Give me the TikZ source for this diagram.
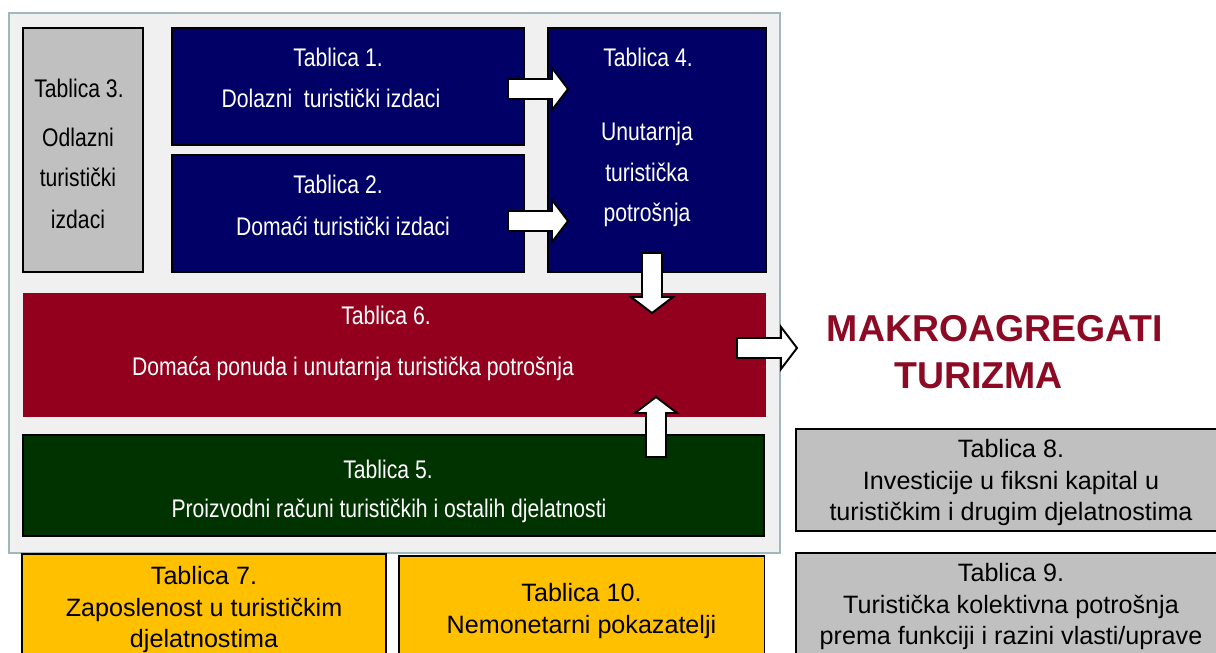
\documentclass[tikz,border=0pt]{standalone}
\usepackage{fontspec}
\setmainfont{Liberation Sans}
\newfontfamily\narrowfont[FakeStretch=0.83]{Liberation Sans}
\definecolor{tnavy}{RGB}{0,0,102}
\definecolor{tmaroon}{RGB}{146,0,30}
\definecolor{tgreen}{RGB}{0,51,0}
\definecolor{tgrey}{RGB}{192,192,192}
\definecolor{tyellow}{RGB}{255,192,0}
\definecolor{tframe}{RGB}{240,240,240}
\definecolor{tframeline}{RGB}{160,184,188}
\definecolor{ttitle}{RGB}{140,10,35}

\begin{document}
\begin{tikzpicture}[x=0.02cm, y=-0.02cm,
    box/.style={draw=black, line width=1.1pt, inner sep=0pt},
    wtxt/.style={text=white, font=\narrowfont\fontsize{14.5}{17}\selectfont, inner sep=0pt, text height=10.4pt, text depth=0pt},
    btxt/.style={wtxt, text=black},
    otxt/.style={align=center, font=\fontsize{14.3}{18.1}\selectfont, inner sep=0pt, text depth=0pt},
    title/.style={text=ttitle, font=\bfseries\fontsize{21.3}{26}\selectfont, inner sep=0pt, text height=15.3pt, text depth=0pt},
    blockarrow/.pic={\draw[fill=white, line width=1.1pt, line join=miter] (0,-10) -- (44,-10) -- (44,-21) -- (60,0) -- (44,21) -- (44,10) -- (0,10) -- cycle;}]
    \path[use as bounding box, fill=white] (0,0) rectangle (1216,652);
    \clip (0,0) rectangle (1216,652);
    % Grey frame round the tables
    \node[draw=tframeline, fill=tframe, line width=0.8pt, minimum width=15.42cm, minimum height=10.8cm] (frame) at (394.5,283) {};
    % Table boxes
    \node[box, fill=tgrey, minimum width=2.4cm, minimum height=4.88cm] (t3) at (83,150) {};
    \node[box, fill=tnavy, minimum width=7.04cm, minimum height=2.34cm] (t1) at (348,86.5) {};
    \node[box, fill=tnavy, minimum width=7.04cm, minimum height=2.34cm] (t2) at (348,213.5) {};
    \node[box, fill=tnavy, minimum width=4.36cm, minimum height=4.88cm] (t4) at (657,150) {};
    \node[box, draw=none, fill=tmaroon, minimum width=14.86cm, minimum height=2.48cm] (t6) at (394.5,355) {};
    \node[box, fill=tgreen, minimum width=14.82cm, minimum height=2.02cm] (t5) at (393.5,485.5) {};
    % Texts in the boxes
    \node[btxt] (t3a) at (79,88) {Tablica 3.};
    \node[btxt] (t3b) at (78,137) {Odlazni};
    \node[btxt] (t3c) at (78,177) {turistički};
    \node[btxt] (t3d) at (78,219) {izdaci};
    \node[wtxt] (t1a) at (338,57) {Tablica 1.};
    \node[wtxt] (t1b) at (331,98) {Dolazni~ turistički izdaci};
    \node[wtxt] (t2a) at (338,184) {Tablica 2.};
    \node[wtxt] (t2b) at (343,226) {Domaći turistički izdaci};
    \node[wtxt] (t4a) at (648,57) {Tablica 4.};
    \node[wtxt] (t4b) at (647,131) {Unutarnja};
    \node[wtxt] (t4c) at (647,172) {turistička};
    \node[wtxt] (t4d) at (647,212) {potrošnja};
    \node[wtxt] (t6a) at (386,315) {Tablica 6.};
    \node[wtxt] (t6b) at (353,366) {Domaća ponuda i unutarnja turistička potrošnja};
    \node[wtxt] (t5a) at (388,469) {Tablica 5.};
    \node[wtxt] (t5b) at (389,508) {Proizvodni računi turističkih i ostalih djelatnosti};
    % Block arrows between the tables
    \pic at (508,89) {blockarrow};
    \pic at (508,221) {blockarrow};
    \pic[rotate=-90] at (652,253) {blockarrow};
    \pic[rotate=90] at (656,457) {blockarrow};
    \pic at (737,348) {blockarrow};
    % Title
    \node[title] (mak1) at (995,328.5) {MAKROAGREGATI};
    \node[title] (mak2) at (978.5,375) {TURIZMA};
    % Tables outside the frame
    \node[box, fill=tyellow, otxt, minimum width=7.28cm, minimum height=2.12cm] (t7) at (204,607) {Tablica 7.\\Zaposlenost u turističkim\\djelatnostima};
    \node[box, fill=tyellow, otxt, minimum width=7.32cm, minimum height=2.08cm] (t10) at (581.5,608) {Tablica 10.\\Nemonetarni pokazatelji};
    \node[box, fill=tgrey, otxt, minimum width=8.6cm, minimum height=2.04cm] (t8) at (1011,480) {Tablica 8.\\Investicije u fiksni kapital u\\turističkim i drugim djelatnostima};
    \node[box, fill=tgrey, otxt, minimum width=8.6cm, minimum height=2.04cm] (t9) at (1011,604) {Tablica 9.\\Turistička kolektivna potrošnja\\prema funkciji i razini vlasti/uprave};
\end{tikzpicture}
\end{document}
